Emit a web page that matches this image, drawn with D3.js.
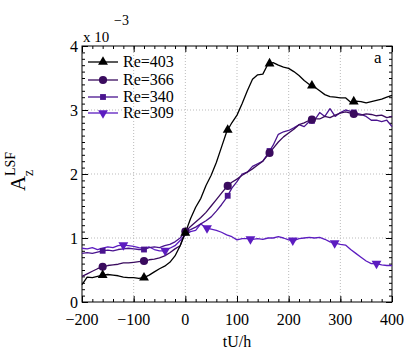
<!DOCTYPE html>
<html>
<head>
<meta charset="utf-8">
<script src="https://cdn.jsdelivr.net/npm/d3@7"></script>
<style>
  body { margin: 0; background: #fff; }
  text { font-family: "Liberation Serif", "Times New Roman", serif; fill: #000; }
</style>
</head>
<body>
<svg id="chart" width="411" height="353"></svg>
<script>
// time axis tU/h, sampled every 10
var tu = d3.range(-200, 401, 10);

var re403 = [0.27,0.39,0.38,0.40,0.42,0.43,0.42,0.41,0.39,0.38,0.38,0.37,0.38,0.42,0.47,0.52,0.56,0.62,0.72,0.88,1.08,
  1.30,1.48,1.62,1.82,1.98,2.18,2.42,2.66,2.80,2.92,3.10,3.30,3.48,3.55,3.56,3.72,3.74,3.70,3.67,3.65,
  3.60,3.54,3.46,3.40,3.36,3.30,3.24,3.21,3.20,3.19,3.19,3.12,3.14,3.13,3.11,3.13,3.15,3.17,3.20,3.23];
var re366 = [0.40,0.44,0.48,0.52,0.55,0.57,0.58,0.59,0.61,0.61,0.62,0.63,0.64,0.66,0.67,0.69,0.72,0.77,0.83,0.88,1.10,
  1.18,1.25,1.32,1.40,1.50,1.60,1.70,1.80,1.87,1.92,1.98,2.03,2.08,2.14,2.20,2.30,2.40,2.50,2.58,2.64,
  2.70,2.77,2.80,2.84,2.86,2.86,2.90,2.88,2.92,2.95,2.97,2.95,2.93,2.92,2.94,2.93,2.91,2.92,2.88,2.90];
var re340 = [0.76,0.77,0.76,0.78,0.80,0.81,0.80,0.82,0.83,0.84,0.83,0.82,0.82,0.85,0.86,0.85,0.88,0.90,0.94,1.00,1.10,
  1.13,1.17,1.22,1.27,1.33,1.42,1.52,1.63,1.78,1.88,2.00,2.03,2.12,2.16,2.20,2.32,2.45,2.62,2.66,2.68,
  2.72,2.77,2.74,2.82,2.84,2.96,2.90,3.02,2.90,2.96,3.00,2.98,2.95,2.93,2.90,2.84,2.84,2.82,2.84,2.74];
var re309 = [0.84,0.83,0.85,0.82,0.84,0.86,0.85,0.88,0.89,0.88,0.87,0.85,0.84,0.86,0.82,0.80,0.80,0.84,0.88,0.96,1.05,
  1.10,1.12,1.22,1.16,1.14,1.12,1.09,1.05,1.02,0.97,0.99,0.99,0.98,0.99,0.98,1.00,1.00,1.02,1.00,0.97,
  0.96,0.99,1.00,1.01,1.00,1.01,0.98,0.94,0.92,0.90,0.89,0.82,0.76,0.70,0.64,0.60,0.60,0.58,0.57,0.57];

var markT = [-160, -80, 0, 82, 163, 245, 326];
var markT309 = [-120, -39, 42, 126, 208, 289, 370];

var xTicks = [-200, -100, 0, 100, 200, 300, 400];
var yTicks = [0, 1, 2, 3, 4];

var series = [
  { name: "Re=403", values: re403, color: "#000000", symbol: "up", marks: markT },
  { name: "Re=366", values: re366, color: "#3a0b5e", symbol: "circle", marks: markT },
  { name: "Re=340", values: re340, color: "#4a148f", symbol: "square", marks: markT },
  { name: "Re=309", values: re309, color: "#5c1cc0", symbol: "down", marks: markT309 }
];

var svg = d3.select("#chart");
var pl = 82, pr = 392, pt = 46, pb = 302;

var x = d3.scaleLinear().domain([-200, 400]).range([pl, pr]);
var y = d3.scaleLinear().domain([0, 4]).range([pb, pt]);

// grid
var grid = svg.append("g").attr("stroke", "#bbb").attr("stroke-width", 1).attr("stroke-dasharray", "1,2");
xTicks.slice(1, -1).forEach(function(t) {
  grid.append("line").attr("x1", x(t)).attr("x2", x(t)).attr("y1", pt).attr("y2", pb);
});
yTicks.slice(1, -1).forEach(function(v) {
  grid.append("line").attr("x1", pl).attr("x2", pr).attr("y1", y(v)).attr("y2", y(v));
});

// axes with inward ticks on all four sides
function tickSide(axis, scale, major, minor, g) {
  g.call(axis(scale).tickValues(minor).tickSize(3).tickFormat(""));
  g.select(".domain").remove();
  var g2 = g.append("g").call(axis(scale).tickValues(major).tickSize(6).tickFormat(""));
  g2.select(".domain").remove();
}
var xMinor = d3.range(-200, 401, 20);
var yMinor = d3.range(0, 40.5, 1).map(function(d) { return d / 10; });

tickSide(d3.axisTop, x, xTicks, xMinor, svg.append("g").attr("transform", "translate(0," + pb + ")"));
tickSide(d3.axisBottom, x, xTicks, xMinor, svg.append("g").attr("transform", "translate(0," + pt + ")"));
tickSide(d3.axisRight, y, yTicks, yMinor, svg.append("g").attr("transform", "translate(" + pl + ",0)"));
tickSide(d3.axisLeft, y, yTicks, yMinor, svg.append("g").attr("transform", "translate(" + pr + ",0)"));

svg.append("rect").attr("x", pl).attr("y", pt).attr("width", pr - pl).attr("height", pb - pt)
  .attr("fill", "none").attr("stroke", "#000").attr("stroke-width", 1);

// tick labels
svg.append("g").selectAll("text").data(xTicks).enter().append("text")
  .attr("x", function(d) { return x(d); }).attr("y", 325)
  .attr("text-anchor", "middle").style("font-size", "16px")
  .text(function(d) { return d < 0 ? "\u2212" + Math.abs(d) : d; });
svg.append("g").selectAll("text").data(yTicks).enter().append("text")
  .attr("x", 78).attr("y", function(d) { return y(d) + 5.5; })
  .attr("text-anchor", "end").style("font-size", "16px")
  .text(function(d) { return d; });

svg.append("text").attr("x", 83).attr("y", 42).style("font-size", "15px").text("x 10");
svg.append("text").attr("x", 114).attr("y", 25).style("font-size", "14px").text("\u22123");
svg.append("text").attr("x", 374).attr("y", 63).style("font-size", "17px").text("a");
svg.append("text").attr("x", 237).attr("y", 347).attr("text-anchor", "middle").style("font-size", "16px").text("tU/h");

// y label A_z^LSF, rotated
svg.append("text").attr("transform", "translate(25,191) rotate(-90)").style("font-size", "21px").text("A");
svg.append("text").attr("transform", "translate(33,176) rotate(-90)").style("font-size", "14px").text("z");
svg.append("text").attr("transform", "translate(15,176) rotate(-90)").style("font-size", "14px").text("LSF");

// markers
function symbolPath(kind) {
  if (kind === "up" || kind === "down") return d3.symbol().type(d3.symbolTriangle).size(42)();
  if (kind === "circle") return d3.symbol().type(d3.symbolCircle).size(52)();
  return d3.symbol().type(d3.symbolSquare).size(34)();
}

var line = d3.line()
  .x(function(d, i) { return x(tu[i]); })
  .y(function(d) { return y(d); });

var lines = svg.append("g");
series.slice().reverse().forEach(function(s) {
  lines.append("path").attr("d", line(s.values)).attr("fill", "none")
    .attr("stroke", s.color).attr("stroke-width", 1.3).attr("stroke-linejoin", "round");
});

series.slice().reverse().forEach(function(s) {
  var interp = function(t) {
    var i = Math.min(tu.length - 2, Math.floor((t - tu[0]) / 10));
    var f = (t - tu[i]) / 10;
    return s.values[i] * (1 - f) + s.values[i + 1] * f;
  };
  svg.append("g").selectAll("path").data(s.marks).enter().append("path")
    .attr("d", symbolPath(s.symbol))
    .attr("transform", function(t) {
      return "translate(" + x(t) + "," + y(interp(t)) + ")" + (s.symbol === "down" ? " rotate(180)" : "");
    })
    .attr("fill", s.color);
});

// legend
var legend = svg.append("g");
series.forEach(function(s, i) {
  var ly = [62, 80, 97, 113][i];
  legend.append("line").attr("x1", 88).attr("x2", 118).attr("y1", ly).attr("y2", ly)
    .attr("stroke", s.color).attr("stroke-width", 1.3);
  legend.append("path").attr("d", symbolPath(s.symbol))
    .attr("transform", "translate(103," + ly + ")" + (s.symbol === "down" ? " rotate(180)" : ""))
    .attr("fill", s.color);
  legend.append("text").attr("x", 123).attr("y", ly + 5).style("font-size", "16px").text(s.name);
});
</script>
</body>
</html>
